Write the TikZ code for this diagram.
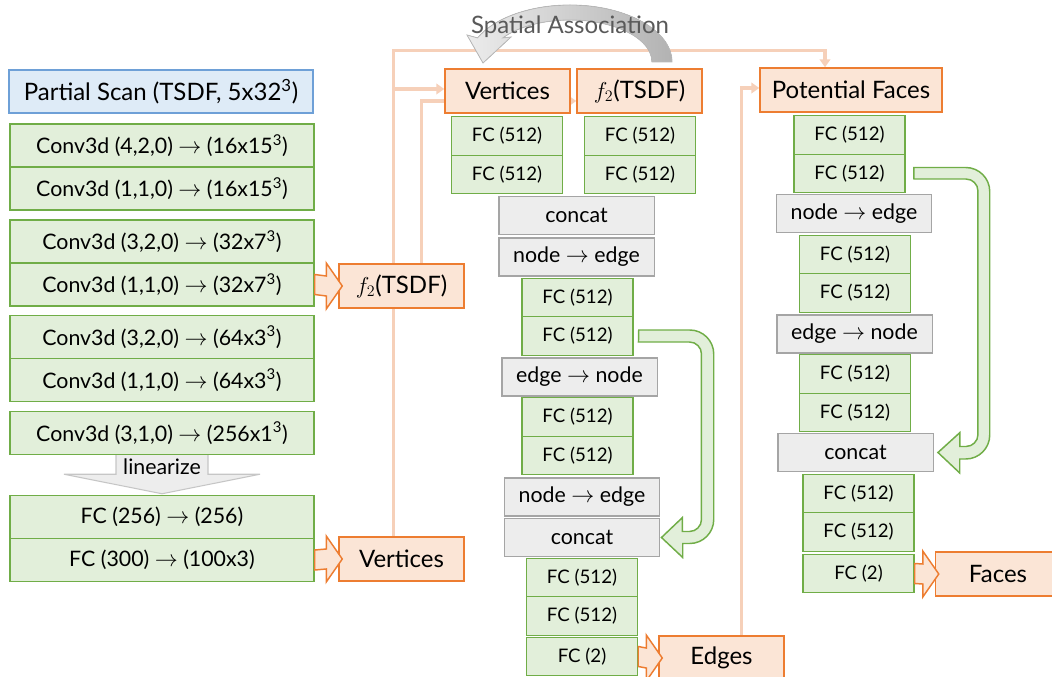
\documentclass[tikz,border=0pt]{standalone}
\usepackage{fontspec}
\setmainfont{Lato}
\usepackage{tikz}
\usetikzlibrary{arrows.meta,calc,backgrounds}

\definecolor{orfill}{RGB}{251,229,214}
\definecolor{orline}{RGB}{237,125,49}
\definecolor{grfill}{RGB}{226,239,218}
\definecolor{grline}{RGB}{112,173,71}
\definecolor{gyfill}{RGB}{237,237,237}
\definecolor{gyline}{RGB}{165,165,165}
\definecolor{blfill}{RGB}{222,235,247}
\definecolor{blline}{RGB}{110,160,215}
\definecolor{linkc}{RGB}{246,208,185}

% block arrow from the east side of one box to the west side of another
\newcommand{\fatarrow}[2]{%
  \filldraw[outarrow] ($(#1.east)+(0,-10)$) -- ($(#2.west)+(-12,-10)$) -- ++(0,-13)
    -- ($(#2.west)+(4,0)$) -- ($(#2.west)+(-12,23)$) -- ++(0,-13) -- ($(#1.east)+(0,10)$) -- cycle;}

\begin{document}
\begin{tikzpicture}[x=0.75pt,y=-0.75pt,
  conv/.style={draw=grline,fill=grfill,line width=1.1pt,minimum width=228pt,minimum height=32.25pt,inner sep=0pt,font=\fontsize{16}{18}\selectfont},
  fc/.style={draw=grline,fill=grfill,line width=1.1pt,minimum width=83.25pt,minimum height=28.875pt,inner sep=0pt,font=\fontsize{14}{16}\selectfont},
  op/.style={draw=gyline,fill=gyfill,line width=1.1pt,minimum width=116.6pt,minimum height=28.5pt,inner sep=0pt,font=\fontsize{16}{18}\selectfont},
  outbox/.style={draw=orline,fill=orfill,line width=1.1pt,minimum width=93.75pt,minimum height=33pt,inner sep=0pt,font=\fontsize{18}{20}\selectfont},
  link/.style={draw=linkc,line width=2.6pt,-{Triangle[length=6pt,width=8pt]}},
  outarrow/.style={draw=orline,fill=orfill,line width=1.1pt},
  skip/.style={draw=grline,fill=grfill,line width=1.1pt}]
\useasboundingbox (0,0) rectangle (1052,677);
\clip (0,0) rectangle (1052,677);

% encoder
\node[conv,draw=blline,fill=blfill,font=\fontsize{18}{20}\selectfont] (scan) at (161,91.5) {Partial Scan (TSDF, 5x32\textsuperscript{3})};
\node[conv] (c1a) at (162,145.5) {Conv3d (4,2,0) $\rightarrow$ (16x15\textsuperscript{3})};
\node[conv] (c1b) at (162,188.5) {Conv3d (1,1,0) $\rightarrow$ (16x15\textsuperscript{3})};
\node[conv] (c2a) at (162,241.5) {Conv3d (3,2,0) $\rightarrow$ (32x7\textsuperscript{3})};
\node[conv] (c2b) at (162,284.5) {Conv3d (1,1,0) $\rightarrow$ (32x7\textsuperscript{3})};
\node[conv] (c3a) at (162,337) {Conv3d (3,2,0) $\rightarrow$ (64x3\textsuperscript{3})};
\node[conv] (c3b) at (162,380) {Conv3d (1,1,0) $\rightarrow$ (64x3\textsuperscript{3})};
\node[conv] (c4) at (162,433) {Conv3d (3,1,0) $\rightarrow$ (256x1\textsuperscript{3})};
\node[conv] (f1) at (162,517) {FC (256) $\rightarrow$ (256)};
\node[conv] (f2) at (162,560) {FC (300) $\rightarrow$ (100x3)};
\node[outbox] (tsdfL) at (401.5,286) {$f_2$(TSDF)};
\node[outbox] (vertL) at (401.5,559) {Vertices};

% edge branch
\node[outbox] (vertM) at (507.5,91) {Vertices};
\node[outbox] (tsdfM) at (639.5,91) {$f_2$(TSDF)};
\node[fc] (m1a) at (507,136) {FC (512)};
\node[fc] (m1b) at (507,174.5) {FC (512)};
\node[fc] (m2a) at (640,136) {FC (512)};
\node[fc] (m2b) at (640,174.5) {FC (512)};
\node[op] (mcat1) at (576.5,215.5) {concat};
\node[op] (mn2e1) at (576.5,257) {node $\rightarrow$ edge};
\node[fc] (m3a) at (577.5,297.5) {FC (512)};
\node[fc] (m3b) at (577.5,336) {FC (512)};
\node[op] (me2n) at (579.5,377) {edge $\rightarrow$ node};
\node[fc] (m4a) at (577.5,417) {FC (512)};
\node[fc] (m4b) at (577.5,455.5) {FC (512)};
\node[op] (mn2e2) at (582,497) {node $\rightarrow$ edge};
\node[op] (mcat2) at (582,537.5) {concat};
\node[fc] (m5a) at (582,577.5) {FC (512)};
\node[fc] (m5b) at (582,616) {FC (512)};
\node[fc] (mfc2) at (582,656.5) {FC (2)};
\node[outbox] (edges) at (721.5,658) {Edges};

% face branch
\node[outbox,minimum width=136.5pt] (pfaces) at (851,90) {Potential Faces};
\node[fc] (r1a) at (849.5,135) {FC (512)};
\node[fc] (r1b) at (849.5,173.5) {FC (512)};
\node[op] (rn2e) at (854,213.5) {node $\rightarrow$ edge};
\node[fc] (r2a) at (855,254.5) {FC (512)};
\node[fc] (r2b) at (855,293) {FC (512)};
\node[op] (re2n) at (854.5,334) {edge $\rightarrow$ node};
\node[fc] (r3a) at (855,374) {FC (512)};
\node[fc] (r3b) at (855,412.5) {FC (512)};
\node[op] (rcat) at (855.5,452.5) {concat};
\node[fc] (r4a) at (858.5,493.5) {FC (512)};
\node[fc] (r4b) at (858.5,532) {FC (512)};
\node[fc] (rfc2) at (858.5,573.5) {FC (2)};
\node[outbox] (faces) at (998,574) {Faces};

% thin links, behind the boxes
\begin{scope}[on background layer]
\draw[link] ($(vertL.north)+(-8,0)$) |- ($(pfaces.north)+(-26,-17)$) -- ($(pfaces.north)+(-26,0)$);
\draw[link] ($(vertL.north)+(-8,0)$) |- ($(vertM.west)+(0,-2)$);
\draw[link] ($(tsdfL.north)+(20,0)$) |- ($(tsdfM.west)+(0,10)$);
\draw[link] ($(edges.north)+(20,0)$) |- ($(pfaces.west)+(0,-2)$);
\end{scope}

% linearize
\filldraw[draw=gray!45,fill=gyfill,line width=0.8pt] ($(c4.south)+(-46,0)$) -- ++(0,19) -- ++(-52,0)
  -- ($(f1.north)+(0,-1)$) -- ($(c4.south)+(98,19)$) -- ++(-52,0) -- ++(0,-19);
\node[font=\fontsize{16}{18}\selectfont] (lin) at ($(c4.south)+(0,11)$) {linearize};

\fatarrow{c2b}{tsdfL}
\fatarrow{f2}{vertL}
\fatarrow{mfc2}{edges}
\fatarrow{rfc2}{faces}

% skip connections
\filldraw[skip] ($(m3b.east)+(5,-6)$) -- ++(51,0) .. controls +(13.25,0) and +(0,-13.25) .. ++(24,24)
  -- ++(0,165.5) .. controls +(0,13.25) and +(13.25,0) .. ++(-24,24) -- ++(-7,0) -- ++(0,14)
  -- ($(mcat2.east)+(1,0)$) -- ++(21,-20) -- ++(0,14) -- ++(7,0)
  .. controls +(6.6,0) and +(0,6.6) .. ++(12,-12) -- ++(0,-165.5)
  .. controls +(0,-6.6) and +(6.6,0) .. ++(-12,-12) -- ++(-51,0) -- cycle;
\filldraw[skip] ($(r1b.east)+(8,-6)$) -- ++(52,0) .. controls +(13.25,0) and +(0,-13.25) .. ++(24,24)
  -- ++(0,243.5) .. controls +(0,13.25) and +(13.25,0) .. ++(-24,24) -- ++(-6,0) -- ++(0,14)
  -- ($(rcat.east)+(4,0)$) -- ++(22,-20) -- ++(0,14) -- ++(6,0)
  .. controls +(6.6,0) and +(0,6.6) .. ++(12,-12) -- ++(0,-243.5)
  .. controls +(0,-6.6) and +(6.6,0) .. ++(-12,-12) -- ++(-52,0) -- cycle;

% spatial association
\filldraw[left color=gray!15,right color=gray!60,draw=gray!55,line width=0.6pt] (672,62)
  arc[start angle=0,end angle=-155,x radius=102,y radius=57] -- (467,35) -- (483,63) -- (511,37)
  -- (502.8,37.9) arc[start angle=-145,end angle=0,x radius=82,y radius=42] -- cycle;
\node[text=black!65,font=\fontsize{18}{20}\selectfont] (spatial) at (570,27) {Spatial Association};
\end{tikzpicture}
\end{document}
